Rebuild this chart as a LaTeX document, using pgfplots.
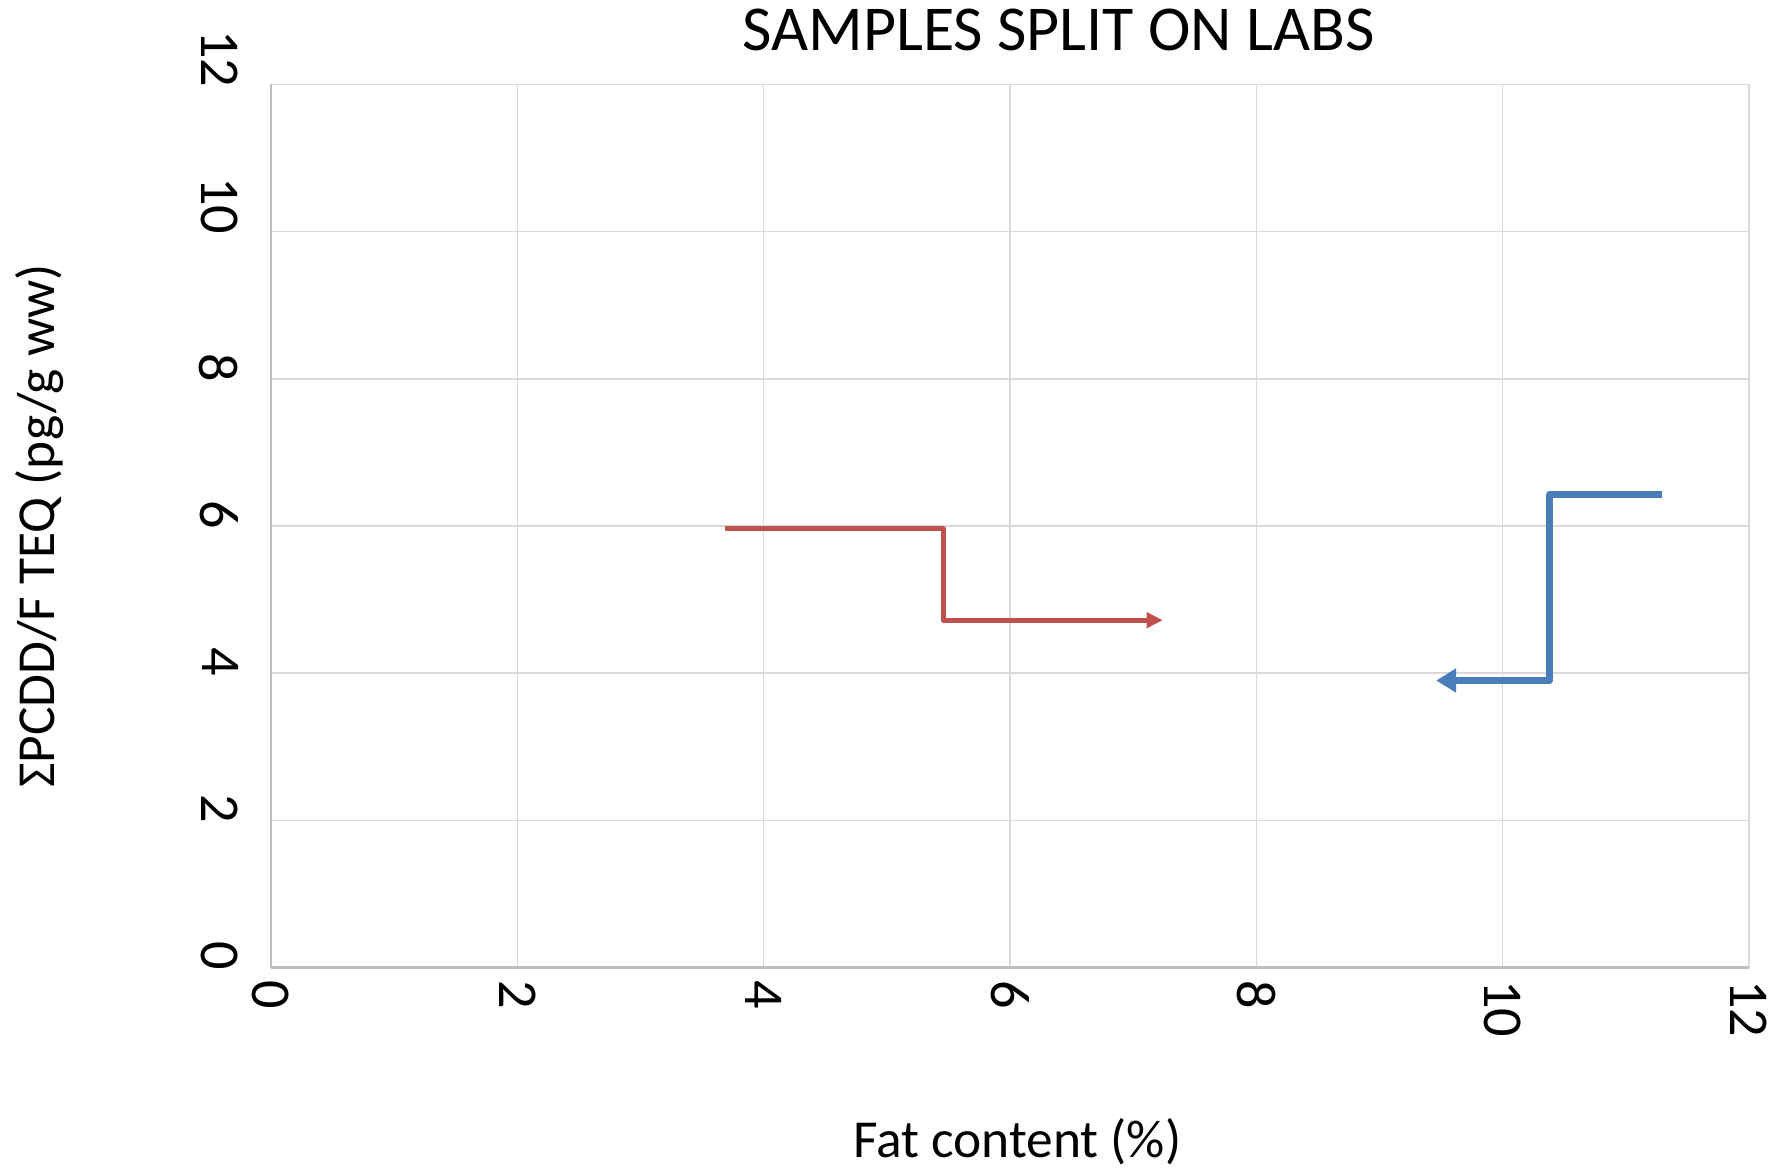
\documentclass[border=0pt]{standalone}
\usepackage{fontspec}
\setmainfont{Carlito}
\usepackage{pgfplots}
\pgfplotsset{compat=1.18}
\usetikzlibrary{arrows.meta}

\definecolor{labred}{HTML}{C0504D}
\definecolor{labblue}{HTML}{4A7EBB}
\definecolor{gridgray}{HTML}{D9D9D9}
\definecolor{axisgray}{HTML}{BFBFBF}

\begin{document}
\begin{tikzpicture}
    \begin{axis}
        [
            name=ax,
            scale only axis,
            width=147.8mm, height=88.3mm,
            xmin=0, xmax=12,
            ymin=0, ymax=12,
            xtick={0,2,4,6,8,10,12},
            ytick={0,2,4,6,8,10,12},
            axis lines*=left,
            axis line style={axisgray, line width=0.6pt},
            grid=major,
            major grid style={gridgray, line width=0.4pt},
            major tick length=0pt,
            /pgf/number format/assume math mode=true,
            tick label style={font=\fontsize{16}{19}\selectfont},
            xticklabel style={rotate=-90, anchor=west, inner xsep=1.2mm},
            yticklabel style={yshift=-0.35mm, rotate=-90, anchor=north east,
                inner xsep=0pt, inner ysep=3.2mm},
            every axis title shift=0pt,
            title={SAMPLES SPLIT ON LABS},
            title style={at={(axis description cs:0.533,1.038)}, anchor=base,
                font=\fontsize{18.2}{21}\selectfont},
            xlabel={Fat content (\%)},
            xlabel style={at={(axis description cs:0.505,-0.1976)}, anchor=center,
                font=\fontsize{15.2}{18}\selectfont},
            ylabel={ΣPCDD/F TEQ (pg/g ww)},
            ylabel style={at={(axis description cs:-0.1563,0.5)}, anchor=center,
                font=\fontsize{15.2}{18}\selectfont},
        ]

        % lab 1 (red)
        \addplot[labred, line width=1.4pt, line join=round,
            -{Triangle[length=1.6mm, width=1.5mm]}] coordinates {
            (3.69,5.96)
            (5.46,5.96)
            (5.46,4.72)
            (7.24,4.72)
        };

        % lab 2 (blue)
        \addplot[labblue, line width=2pt, line join=round,
            -{Triangle[length=2.0mm, width=2.3mm]}] coordinates {
            (11.29,6.43)
            (10.38,6.43)
            (10.38,3.90)
            (9.46,3.90)
        };

    \end{axis}
    \pgfresetboundingbox
    \useasboundingbox ([xshift=-27.1mm, yshift=-20.1mm]ax.south west)
        rectangle ([xshift=4.2mm, yshift=8.45mm]ax.north east);
\end{tikzpicture}
\end{document}
